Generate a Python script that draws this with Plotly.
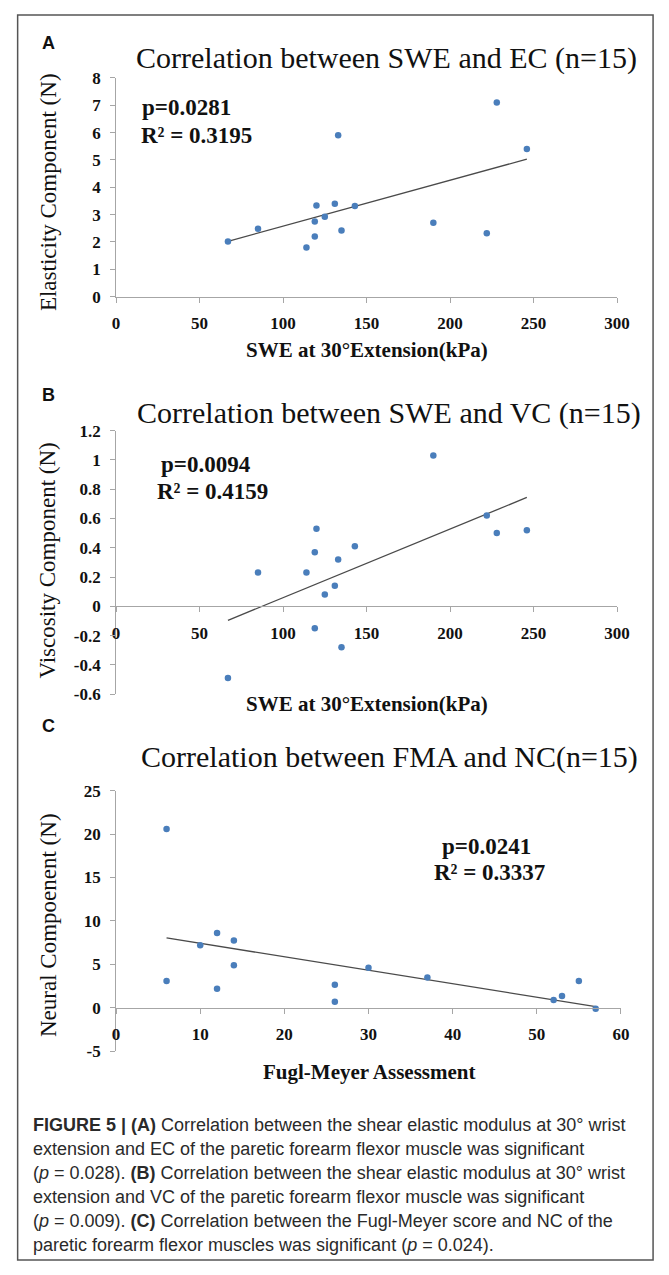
import numpy as np
import plotly.graph_objects as go

W, H = 669, 1275

# ---------------- data ----------------
# Panel A: SWE vs Elasticity Component
swe_a = [67, 85, 114, 119, 119, 120, 125, 131, 133, 135, 143, 190, 222, 228, 246]
ec_a = [2.02, 2.48, 1.80, 2.20, 2.75, 3.33, 2.92, 3.40, 5.90, 2.42, 3.32, 2.70, 2.32, 7.10, 5.40]
# Panel B: SWE vs Viscosity Component
swe_b = [67, 85, 114, 119, 119, 120, 125, 131, 133, 135, 143, 190, 222, 228, 246]
vc_b = [-0.49, 0.23, 0.23, 0.37, -0.15, 0.53, 0.08, 0.14, 0.32, -0.28, 0.41, 1.03, 0.62, 0.50, 0.52]
# Panel C: Fugl-Meyer vs Neural Component
fma_c = [6, 6, 10, 12, 12, 14, 14, 26, 26, 30, 37, 52, 53, 55, 57]
nc_c = [20.6, 3.1, 7.2, 8.6, 2.2, 7.75, 4.9, 2.65, 0.7, 4.6, 3.5, 0.9, 1.35, 3.1, -0.1]

# tick labels
xticks_swe = [0, 50, 100, 150, 200, 250, 300]
yticks_a = [0, 1, 2, 3, 4, 5, 6, 7, 8]
yticks_b = [-0.6, -0.4, -0.2, 0, 0.2, 0.4, 0.6, 0.8, 1.0, 1.2]
yticklabels_b = ["-0.6", "-0.4", "-0.2", "0", "0.2", "0.4", "0.6", "0.8", "1", "1.2"]
xticks_c = [0, 10, 20, 30, 40, 50, 60]
yticks_c = [-5, 0, 5, 10, 15, 20, 25]
yticklabels_c = ["-5", "0", "5", "10", "15", "20", "25"]

titles = ["Correlation between SWE and EC (n=15)",
          "Correlation between SWE and VC (n=15)",
          "Correlation between FMA and NC(n=15)"]
ytitles = ["Elasticity Component (N)", "Viscosity Component (N)", "Neural Compoenent (N)"]
xtitles = ["SWE at 30°Extension(kPa)", "SWE at 30°Extension(kPa)", "Fugl-Meyer Assessment"]
stats = [("p=0.0281", "R² = 0.3195"), ("p=0.0094", "R² = 0.4159"), ("p=0.0241", "R² = 0.3337")]
panel_letters = ["A", "B", "C"]

caption_lines = [
    "<b>FIGURE 5 | (A)</b> Correlation between the shear elastic modulus at 30° wrist",
    "extension and EC of the paretic forearm flexor muscle was significant",
    "(<i>p</i> = 0.028). <b>(B)</b> Correlation between the shear elastic modulus at 30° wrist",
    "extension and VC of the paretic forearm flexor muscle was significant",
    "(<i>p</i> = 0.009). <b>(C)</b> Correlation between the Fugl-Meyer score and NC of the",
    "paretic forearm flexor muscles was significant (<i>p</i> = 0.024).",
]

# ---------------- layout helpers ----------------
def px_x(p):
    return p / W

def px_y(p):
    return 1 - p / H

SERIF = "Liberation Serif"
SANS = "Liberation Sans"
AXC = "#a6a6a6"
MARK = "#4a7ebb"

fig = go.Figure()

panels = [
    dict(x=swe_a, y=ec_a, xr=[0, 300], yr=[0, 8], xd=[115, 629], yd=[70, 292],
         xt=xticks_swe, xtl=[str(v) for v in xticks_swe], yt=yticks_a, ytl=[str(v) for v in yticks_a]),
    dict(x=swe_b, y=vc_b, xr=[0, 300], yr=[-0.6, 1.2], xd=[115, 629], yd=[428, 695.5],
         xt=xticks_swe, xtl=[str(v) for v in xticks_swe], yt=yticks_b, ytl=yticklabels_b),
    dict(x=fma_c, y=nc_c, xr=[0, 60], yr=[-5, 25], xd=[115, 633], yd=[793.5, 1058],
         xt=xticks_c, xtl=[str(v) for v in xticks_c], yt=yticks_c, ytl=yticklabels_c),
]

title_pos = [(392, 50), (395, 410), (396, 759)]
ytitle_pos = [(45, 186), (45, 560), (45, 930)]
xtitle_pos = [(372, 346), (372, 706), (375, 1079)]
letter_pos = [(46, 35), (46, 392), (46, 728)]
stat_pos = [((187, 100), (198, 128)), ((207, 462), (214, 490)), ((495, 850), (498, 877))]

for i, p in enumerate(panels):
    n = "" if i == 0 else str(i + 1)
    xa, ya = "x" + n, "y" + n
    # trend line from least squares fit of the data
    xs = np.array(p["x"], dtype=float)
    ys = np.array(p["y"], dtype=float)
    k, b = np.polyfit(xs, ys, 1)
    xl = np.array([xs.min(), xs.max()])
    fig.add_trace(go.Scatter(x=xl, y=k * xl + b, mode="lines",
                             line=dict(color="#4a4a4a", width=1.3),
                             xaxis=xa, yaxis=ya, showlegend=False, hoverinfo="skip"))
    fig.add_trace(go.Scatter(x=p["x"], y=p["y"], mode="markers",
                             marker=dict(color=MARK, size=6.5),
                             xaxis=xa, yaxis=ya, showlegend=False))

    ydom = [1 - p["yd"][1] / H, 1 - p["yd"][0] / H]
    xdom = [p["xd"][0] / W, p["xd"][1] / W]
    y0, y1 = p["yr"]
    zero_pos = ydom[0] + (0 - y0) / (y1 - y0) * (ydom[1] - ydom[0])

    xaxis = dict(domain=xdom, range=p["xr"], showgrid=False, zeroline=False,
                 showline=True, linecolor=AXC, linewidth=1,
                 ticks="outside", ticklen=5, tickcolor=AXC,
                 tickvals=p["xt"], ticktext=p["xtl"], ticklabelstandoff=6,
                 tickfont=dict(family=SERIF, size=17, color="#111", weight="bold"))
    if i == 0:
        xaxis.update(anchor=ya)
    else:
        xaxis.update(anchor="free", position=zero_pos)
    yaxis = dict(domain=ydom, range=p["yr"], showgrid=False, zeroline=False,
                 showline=True, linecolor=AXC, linewidth=1, anchor=xa,
                 ticks="outside", ticklen=5, tickcolor=AXC,
                 tickvals=p["yt"], ticktext=p["ytl"], ticklabelstandoff=6,
                 tickfont=dict(family=SERIF, size=17, color="#111", weight="bold"))
    fig.layout["xaxis" + n] = xaxis
    fig.layout["yaxis" + n] = yaxis

annotations = []
for i in range(3):
    tx, ty = title_pos[i]
    annotations.append(dict(text=titles[i], x=px_x(tx), y=px_y(ty), xref="paper", yref="paper",
                            showarrow=False, xanchor="center", yanchor="middle",
                            font=dict(family=SERIF, size=30, color="#111")))
    yx, yy = ytitle_pos[i]
    annotations.append(dict(text=ytitles[i], x=px_x(yx), y=px_y(yy), xref="paper", yref="paper",
                            showarrow=False, textangle=-90, xanchor="center", yanchor="middle",
                            font=dict(family=SERIF, size=23, color="#111")))
    xx, xy = xtitle_pos[i]
    annotations.append(dict(text="<b>" + xtitles[i] + "</b>", x=px_x(xx), y=px_y(xy),
                            xref="paper", yref="paper", showarrow=False,
                            xanchor="center", yanchor="middle",
                            font=dict(family=SERIF, size=21, color="#111")))
    lx, ly = letter_pos[i]
    annotations.append(dict(text="<b>" + panel_letters[i] + "</b>", x=px_x(lx), y=px_y(ly),
                            xref="paper", yref="paper", showarrow=False,
                            xanchor="center", yanchor="middle",
                            font=dict(family=SANS, size=18, color="#111")))
    for j in range(2):
        sx, sy = stat_pos[i][j]
        annotations.append(dict(text="<b>" + stats[i][j] + "</b>", x=px_x(sx), y=px_y(sy),
                                xref="paper", yref="paper", showarrow=False,
                                xanchor="center", yanchor="middle",
                                font=dict(family=SERIF, size=23, color="#111")))

for k, line in enumerate(caption_lines):
    annotations.append(dict(text=line, x=px_x(28), y=px_y(1133 + k * 24.4), xref="paper", yref="paper",
                            showarrow=False, xanchor="left", yanchor="middle",
                            font=dict(family=SANS, size=18, color="#2a2a2a")))

fig.update_layout(
    width=W, height=H, margin=dict(l=0, r=0, t=0, b=0),
    paper_bgcolor="white", plot_bgcolor="rgba(0,0,0,0)",
    annotations=annotations,
    shapes=[dict(type="rect", xref="paper", yref="paper",
                 x0=px_x(14), x1=px_x(666), y0=px_y(1270), y1=px_y(6),
                 line=dict(color="#555", width=1.5))],
    showlegend=False,
)

fig.write_html("out.html", config={"displayModeBar": False},
               post_script="document.body.style.margin='0px';")
